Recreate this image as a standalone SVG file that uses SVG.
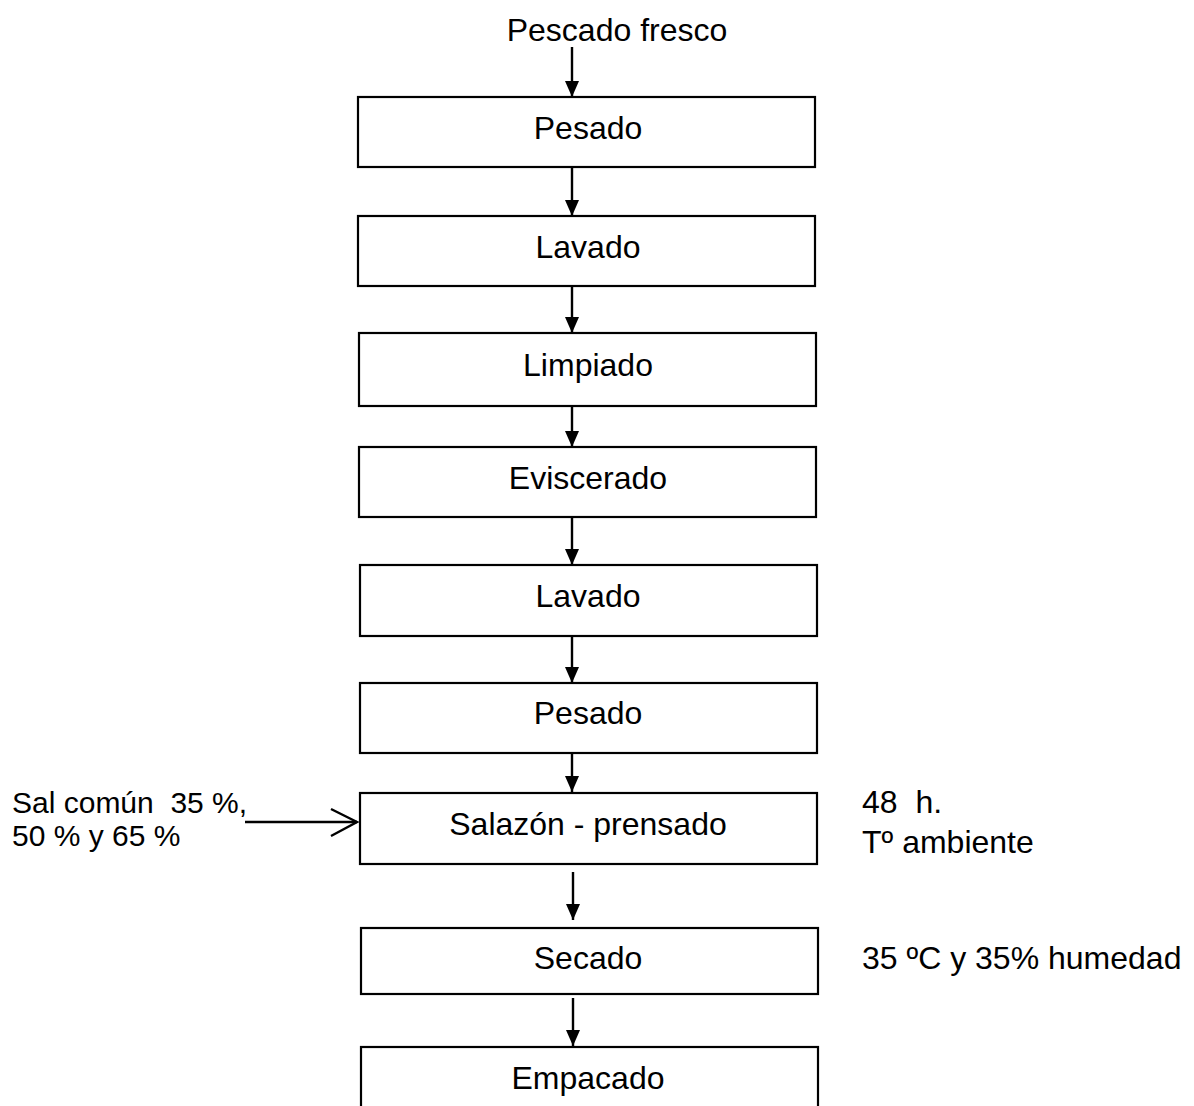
<svg xmlns="http://www.w3.org/2000/svg" width="1194" height="1106" viewBox="0 0 1194 1106">
<style>
.box{fill:#fff;stroke:#000;stroke-width:2.2}
.t{font-family:"Liberation Sans",Arial,sans-serif;font-size:32px;fill:#000;white-space:pre}
.s{font-size:30px}
.c{text-anchor:middle}
.ln{stroke:#000;stroke-width:2.4;fill:none}
</style>
<defs>
<marker id="ah" markerWidth="16" markerHeight="14" refX="16" refY="7" orient="auto" markerUnits="userSpaceOnUse" viewBox="0 0 16 14">
<path d="M0,0 L16,7 L0,14 Z" fill="#000"/>
</marker>
</defs>
<rect width="1194" height="1106" fill="#fff"/>
<g id="connectors">
<line class="ln" x1="572" y1="47" x2="572" y2="97" marker-end="url(#ah)"/>
<line class="ln" x1="572" y1="167" x2="572" y2="216" marker-end="url(#ah)"/>
<line class="ln" x1="572" y1="286" x2="572" y2="333" marker-end="url(#ah)"/>
<line class="ln" x1="572" y1="406" x2="572" y2="447" marker-end="url(#ah)"/>
<line class="ln" x1="572" y1="517" x2="572" y2="565" marker-end="url(#ah)"/>
<line class="ln" x1="572" y1="636" x2="572" y2="683" marker-end="url(#ah)"/>
<line class="ln" x1="572" y1="753" x2="572" y2="792" marker-end="url(#ah)"/>
<line class="ln" x1="573" y1="872" x2="573" y2="920" marker-end="url(#ah)"/>
<line class="ln" x1="573" y1="998" x2="573" y2="1046" marker-end="url(#ah)"/>
<line class="ln" x1="245" y1="822" x2="357" y2="822"/>
<polyline class="ln" points="331,809 357,822 331,836"/>
</g>
<text id="input" class="t c" x="617" y="41">Pescado fresco</text>
<g id="n1"><rect class="box" x="358" y="97" width="457" height="70"/><text class="t c" x="588" y="139">Pesado</text></g>
<g id="n2"><rect class="box" x="358" y="216" width="457" height="70"/><text class="t c" x="588" y="258">Lavado</text></g>
<g id="n3"><rect class="box" x="359" y="333" width="457" height="73"/><text class="t c" x="588" y="376">Limpiado</text></g>
<g id="n4"><rect class="box" x="359" y="447" width="457" height="70"/><text class="t c" x="588" y="489">Eviscerado</text></g>
<g id="n5"><rect class="box" x="360" y="565" width="457" height="71"/><text class="t c" x="588" y="607">Lavado</text></g>
<g id="n6"><rect class="box" x="360" y="683" width="457" height="70"/><text class="t c" x="588" y="724">Pesado</text></g>
<g id="n7"><rect class="box" x="360" y="793" width="457" height="71"/><text class="t c" x="588" y="835">Salazón - prensado</text></g>
<g id="n8"><rect class="box" x="361" y="928" width="457" height="66"/><text class="t c" x="588" y="969">Secado</text></g>
<g id="n9"><rect class="box" x="361" y="1047" width="457" height="80"/><text class="t c" x="588" y="1089">Empacado</text></g>
<g id="salt"><text class="t s" x="12" y="813" xml:space="preserve">Sal común  35 %,</text><text class="t s" x="12" y="846">50 % y 65 %</text></g>
<g id="cond1"><text class="t" x="862" y="813" xml:space="preserve">48  h.</text><text class="t" x="862" y="853">Tº ambiente</text></g>
<g id="cond2"><text class="t" x="862" y="969">35 ºC y 35% humedad</text></g>
</svg>
